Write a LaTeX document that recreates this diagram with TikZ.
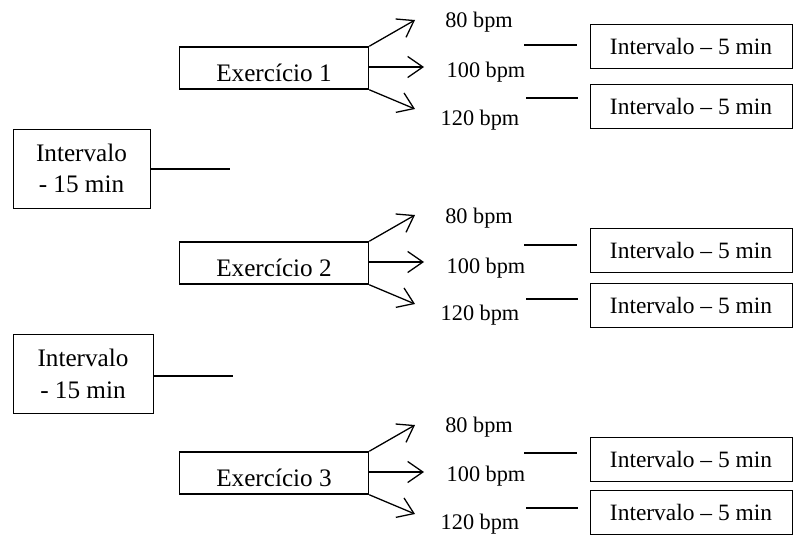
\documentclass[tikz,border=0pt]{standalone}
\usepackage{fontspec}
\setmainfont{Liberation Serif}
\usetikzlibrary{arrows.meta}
\begin{document}
\begin{tikzpicture}[x=0.03cm, y=-0.03cm, >={Straight Barb[length=13pt,width=18pt]},
  exbox/.style={draw, line width=1.3pt, minimum width=5.67cm, minimum height=1.26cm, inner sep=0pt, text height=23pt, text depth=0pt, font=\fontsize{21.5}{25}\selectfont},
  pausebox/.style={draw, line width=0.7pt, minimum width=6.06cm, minimum height=1.32cm, inner sep=0pt, font=\fontsize{20}{23}\selectfont},
  restbox/.style={draw, line width=0.7pt, minimum height=2.37cm, inner sep=0pt, align=center, font=\fontsize{21.5}{27}\selectfont},
  bpm/.style={font=\fontsize{19}{23}\selectfont, inner sep=0pt},
  link/.style={line width=1.1pt}]
\useasboundingbox (0,0) rectangle (794,534);

% pausas longas
\node[restbox, minimum width=4.11cm] (rest1) at (81.5,168.5) {Intervalo\\- 15 min};
\coordinate (re1) at (230,169);
\draw[link] (rest1.east |- re1) -- (re1);

\node[restbox, minimum width=4.2cm] (rest2) at (83,374) {Intervalo\\- 15 min};
\coordinate (re2) at (233,376);
\draw[link] (rest2.east |- re2) -- (re2);

% exercicios
\foreach \g/\ey/\la/\lb/\lc/\ta/\tb/\ra/\rb in {1/68/22/72/120/45/98/46/106, 2/263/218/268/315/245/299/250/305, 3/473/427/476/524/453/508/459/512}
{
  \node[exbox] (ex\g) at (274,\ey) {Exercício \g};

  \node[bpm] (lo\g) at (479,\la) {80 bpm};
  \node[bpm] (mid\g) at (486,\lb) {100 bpm};
  \node[bpm] (hi\g) at (480,\lc) {120 bpm};

  \coordinate (tlo\g) at (415,\ey-48);
  \coordinate (tmid\g) at (424,\ey-1);
  \coordinate (thi\g) at (415,\ey+41);
  \draw[->, link] (ex\g.north east) -- (tlo\g);
  \draw[->, link] (ex\g.east |- tmid\g) -- (tmid\g);
  \draw[->, link] (ex\g.south east) -- (thi\g);

  \coordinate (sa\g) at (524,\ta);
  \coordinate (ea\g) at (577,\ta);
  \coordinate (sb\g) at (526,\tb);
  \coordinate (eb\g) at (578,\tb);
  \draw[link] (sa\g) -- (ea\g);
  \draw[link] (sb\g) -- (eb\g);

  \node[pausebox] (pa\g) at (691,\ra) {Intervalo – 5 min};
  \node[pausebox] (pb\g) at (691,\rb) {Intervalo – 5 min};
}
\end{tikzpicture}
\end{document}
